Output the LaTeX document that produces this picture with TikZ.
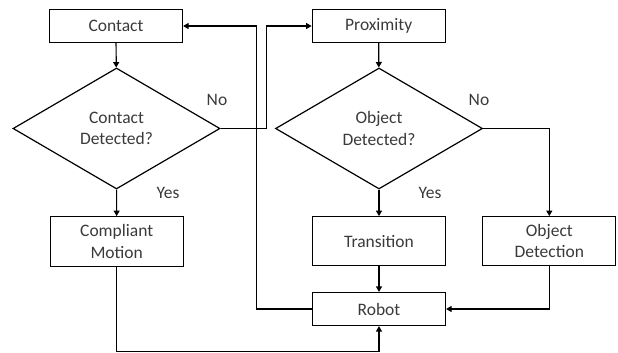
\documentclass[tikz,border=0pt]{standalone}
\usepackage{fontspec}
\setmainfont{Carlito}
\usetikzlibrary{shapes.geometric,arrows.meta}
\definecolor{txtgray}{HTML}{3A3A3A}
\begin{document}
\begin{tikzpicture}[x=1pt,y=-1pt,
  every node/.style={text=txtgray, font=\fontsize{17.5}{21.5}\selectfont},
  box/.style={draw=black, line width=1.2pt, minimum width=133pt, inner sep=0pt, align=center},
  dia/.style={draw=black, line width=1.2pt, diamond, minimum width=207pt, minimum height=121pt, inner sep=0pt, align=center},
  conn/.style={draw=black, line width=1.2pt},
  arr/.style={conn, -{Triangle[length=5.5pt,width=6pt]}},
  lbl/.style={inner sep=0pt}]
\useasboundingbox (0,0) rectangle (618,353);

\node[box, minimum height=33pt] (contact) at (116,26) {Contact};
\node[dia] (cdet) at (116.5,128.5) {Contact\\Detected?};
\node[box, minimum height=50pt] (comp) at (116.7,241.7) {Compliant\\Motion};

\node[box, minimum height=33pt] (prox) at (378.7,26) {Proximity};
\node[dia] (odet) at (379,128.5) {Object\\Detected?};
\node[box, minimum height=49pt] (trans) at (379,241.2) {Transition};
\node[box, minimum height=49pt] (objdet) at (549.3,241.2) {Object\\Detection};
\node[box, minimum height=33pt] (robot) at (379,309) {Robot};

\node[lbl] (no1) at (217,100) {No};
\node[lbl] (no2) at (479,100) {No};
\node[lbl] (yes1) at (168,193) {Yes};
\node[lbl] (yes2) at (430,193) {Yes};

\coordinate (jprox) at (266.7,0);
\coordinate (jrob) at (256.7,0);
\coordinate (jbot) at (0,351.5);

\draw[arr] (contact) -- (cdet);
\draw[arr] (cdet) -- (comp);
\draw[arr] (cdet.east) -- (cdet.east -| jprox) |- (prox.west);
\draw[arr] (robot.west) -- (robot.west -| jrob) |- (contact.east);
\draw[arr] (comp.south) -- (comp.south |- jbot) -| (robot.south);

\draw[arr] (prox) -- (odet);
\draw[arr] (odet) -- (trans);
\draw[arr] (trans) -- (robot);
\draw[arr] (odet.east) -| (objdet.north);
\draw[arr] (objdet.south) |- (robot.east);
\end{tikzpicture}
\end{document}
